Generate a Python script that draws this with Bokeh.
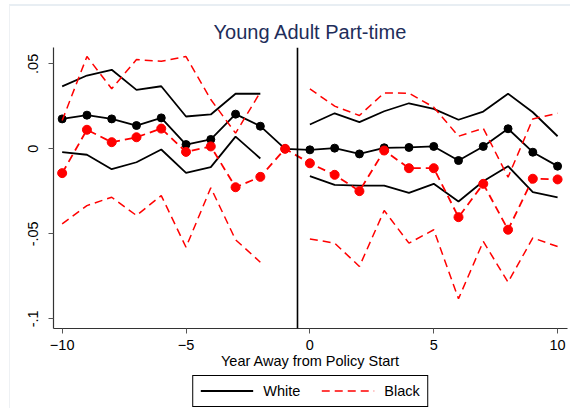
from bokeh.plotting import figure
from bokeh.layouts import column
from bokeh.models import (Range1d, FixedTicker, Span, Legend, LegendItem,
                          ColumnDataSource)
from bokeh.embed import file_html
from bokeh.resources import INLINE

# Event-study estimates for young adult part-time work, by race
years = list(range(-10, 11))

white_est = [0.0176, 0.0198, 0.0176, 0.0137, 0.0182, 0.0025, 0.0055, 0.0204, 0.0133, 0.0,
             -0.0006, 0.0004, -0.0030, 0.0006, 0.0008, 0.0014, -0.0069, 0.0014, 0.0118, -0.0020, -0.0102]
white_hi = [0.0367, 0.0431, 0.0465, 0.0347, 0.0368, 0.0190, 0.0202, 0.0324, 0.0324, None,
            0.0143, 0.0209, 0.0157, 0.0221, 0.0268, 0.0235, 0.0171, 0.0219, 0.0324, 0.0215, 0.0074]
white_lo = [-0.0020, -0.0035, -0.0120, -0.0079, -0.0004, -0.0141, -0.0108, 0.0072, -0.0057, None,
            -0.0161, -0.0212, -0.0216, -0.0216, -0.0259, -0.0206, -0.0310, -0.0191, -0.0102, -0.0255, -0.0285]

black_est = [-0.0143, 0.0112, 0.0039, 0.0068, 0.0119, -0.0018, 0.0014, -0.0226, -0.0165, 0.0,
             -0.0085, -0.0153, -0.0249, -0.0010, -0.0114, -0.0114, -0.0402, -0.0206, -0.0476, -0.0176, -0.0180]
black_hi = [0.0166, 0.0543, 0.0353, 0.0525, 0.0515, 0.0543, 0.0290, 0.0092, 0.0333, None,
            0.0353, 0.0251, 0.0196, 0.0329, 0.0327, 0.0245, 0.0074, 0.0121, -0.0167, 0.0176, 0.0209]
black_lo = [-0.0441, -0.0334, -0.0285, -0.0392, -0.0275, -0.0579, -0.0229, -0.0535, -0.0667, None,
            -0.0530, -0.0555, -0.0692, -0.0363, -0.0555, -0.0476, -0.0882, -0.0545, -0.0785, -0.0524, -0.0575]

y_ticks = [-0.1, -0.05, 0.0, 0.05]
y_tick_labels = ["-.1", "-.05", "0", ".05"]
x_ticks = [-10, -5, 0, 5, 10]
policy_line = -0.5
series_names = ["White", "Black"]


def nan_gaps(vals):
    return [float("nan") if v is None else v for v in vals]


FONT = "Liberation Sans"
RED = "#ff0000"
DASH = "8 5"

p = figure(frame_width=514, frame_height=281,
           min_border_left=43, min_border_right=3, min_border_top=41, min_border_bottom=45,
           x_range=Range1d(-10.35, 10.4), y_range=Range1d(-0.1057, 0.0596),
           output_backend="svg", toolbar_location=None,
           title="Young Adult Part-time")

p.title.align = "center"
p.title.text_font = FONT
p.title.text_font_size = "20px"
p.title.text_font_style = "normal"
p.title.text_color = "#1e2d5a"

p.xgrid.visible = False
p.ygrid.visible = False
p.outline_line_color = None
p.background_fill_color = "white"
p.border_fill_color = "white"

for ax in (p.xaxis[0], p.yaxis[0]):
    ax.axis_line_color = "#333333"
    ax.axis_line_width = 1.2
    ax.major_tick_line_color = "#555555"
    ax.major_tick_out = 5
    ax.major_tick_in = 0
    ax.minor_tick_line_color = None
    ax.major_label_text_font = FONT
    ax.major_label_text_font_size = "14.5px"
    ax.major_label_text_color = "black"

p.xaxis.ticker = FixedTicker(ticks=x_ticks)
p.xaxis.axis_label = "Year Away from Policy Start"
p.xaxis.axis_label_text_font = FONT
p.xaxis.axis_label_text_font_size = "14.5px"
p.xaxis.axis_label_text_font_style = "normal"
p.xaxis.axis_label_text_color = "black"
p.xaxis.axis_label_standoff = 0
p.xaxis.major_label_standoff = 6

p.yaxis.ticker = FixedTicker(ticks=y_ticks)
p.yaxis.major_label_overrides = dict(zip(y_ticks, y_tick_labels))
p.yaxis.major_label_orientation = "vertical"
p.yaxis.major_label_standoff = 10

src = ColumnDataSource(dict(
    t=years,
    w=white_est, whi=nan_gaps(white_hi), wlo=nan_gaps(white_lo),
    b=black_est, bhi=nan_gaps(black_hi), blo=nan_gaps(black_lo),
))

# Policy start marker
p.add_layout(Span(location=policy_line, dimension="height", line_color="black", line_width=1.6))

# White: solid confidence bands and point estimates
p.line("t", "whi", source=src, line_color="black", line_width=1.8)
p.line("t", "wlo", source=src, line_color="black", line_width=1.8)
p.line("t", "w", source=src, line_color="black", line_width=1.8)
p.scatter("t", "w", source=src, marker="circle", size=8, fill_color="black", line_color="black")

# Black: dashed red confidence bands and point estimates
p.line("t", "bhi", source=src, line_color=RED, line_width=1.5, line_dash=DASH)
p.line("t", "blo", source=src, line_color=RED, line_width=1.5, line_dash=DASH)
p.line("t", "b", source=src, line_color=RED, line_width=1.8, line_dash=DASH)
p.scatter("t", "b", source=src, marker="circle", size=9, fill_color=RED, line_color=RED)

# Legend strip under the chart. Its key lines reuse the band columns, but the
# strip's y range sits above all values so only the legend swatches show.
lf = figure(width=560, height=35, min_border=0, output_backend="svg", toolbar_location=None,
            x_axis_location=None, y_axis_location=None,
            x_range=Range1d(-10.35, 10.4), y_range=Range1d(1, 2))
lf.xgrid.visible = False
lf.ygrid.visible = False
lf.outline_line_color = None
key_white = lf.line("t", "whi", source=src, line_color="black", line_width=1.8)
key_black = lf.line("t", "bhi", source=src, line_color=RED, line_width=1.5, line_dash=DASH)

legend = Legend(items=[LegendItem(label=series_names[0], renderers=[key_white]),
                       LegendItem(label=series_names[1], renderers=[key_black])],
                orientation="horizontal", location="center")
legend.label_text_font = FONT
legend.label_text_font_size = "14.5px"
legend.label_text_color = "black"
legend.glyph_width = 53
legend.glyph_height = 13
legend.label_height = 13
legend.label_standoff = 10
legend.spacing = 21
legend.padding = 7
legend.margin = 0
legend.border_line_color = "black"
legend.border_line_alpha = 1.0
legend.border_line_width = 1
legend.background_fill_color = "white"
lf.add_layout(legend)

page = column(p, lf, spacing=0, margin=(4, 0, 0, 9),
              styles={"border-top": "2px solid #e8eef3", "border-left": "1px solid #eef1f4"})

open("out.html", "w").write(file_html(page, INLINE))
